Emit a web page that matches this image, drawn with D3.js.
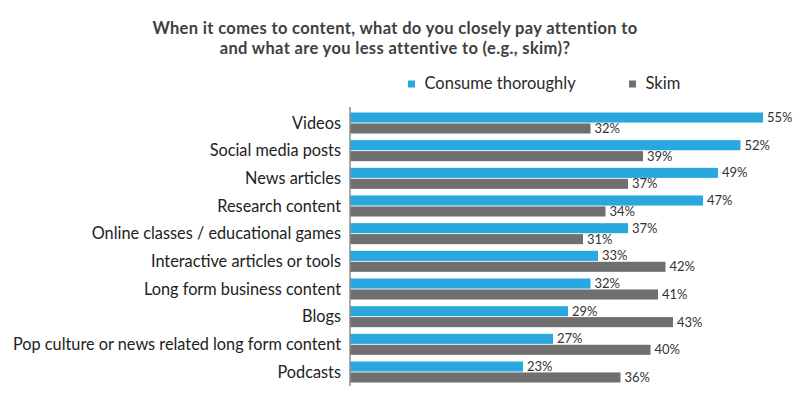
<!DOCTYPE html>
<html>
<head>
<meta charset="utf-8">
<script src="https://cdn.jsdelivr.net/npm/d3@7"></script>
<style>
  body { margin: 0; background: #fff; }
  text { font-family: Lato, "Open Sans", sans-serif; }
</style>
</head>
<body>
<div id="chart"></div>
<script>
// data
var categories = ["Videos", "Social media posts", "News articles", "Research content",
  "Online classes / educational games", "Interactive articles or tools",
  "Long form business content", "Blogs", "Pop culture or news related long form content", "Podcasts"];
var consume = [55, 52, 49, 47, 37, 33, 32, 29, 27, 23];
var skim = [32, 39, 37, 34, 31, 42, 41, 43, 40, 36];
var seriesNames = ["Consume thoroughly", "Skim"];
var colors = ["#29a8df", "#6f6f6f"];

var width = 800, height = 398;

var svg = d3.select("#chart").append("svg")
    .attr("width", width)
    .attr("height", height);

// title
var titleLines = ["When it comes to content, what do you closely pay attention to",
  "and what are you less attentive to (e.g., skim)?"];
titleLines.forEach(function(t, i) {
  svg.append("text").text(t)
    .attr("x", 395).attr("y", 34 + i * 19.5).attr("text-anchor", "middle")
    .style("font-size", "16.5px").style("font-weight", "bold")
    .style("letter-spacing", "0.35px").style("fill", "#404040");
});

// legend
var legendX = [408, 629];
seriesNames.forEach(function(s, i) {
  svg.append("rect").attr("x", legendX[i]).attr("y", 80.5).attr("width", 7).attr("height", 7)
    .style("fill", colors[i]);
  svg.append("text").text(s).attr("x", legendX[i] + 16.5).attr("y", 89)
    .style("font-size", "16.5px").style("fill", "#2a2a2a");
});

// scales
var x = d3.scaleLinear().domain([0, 55]).range([350.5, 763]);
var y = d3.scaleBand().domain(categories).range([112.5, 382.5]).paddingInner(0.24).paddingOuter(0);
var sub = d3.scaleBand().domain([0, 1]).range([0, y.bandwidth()]).paddingInner(0.08);

var rows = categories.map(function(c, i) {
  return { name: c, values: [consume[i], skim[i]] };
});

var g = svg.append("g").selectAll(".row")
    .data(rows)
  .enter().append("g")
    .attr("class", "row")
    .attr("transform", function(d) { return "translate(0," + y(d.name) + ")"; });

g.selectAll("rect")
    .data(function(d) { return d.values; })
  .enter().append("rect")
    .attr("x", x(0))
    .attr("y", function(d, i) { return sub(i); })
    .attr("width", function(d) { return x(d) - x(0); })
    .attr("height", sub.bandwidth())
    .style("fill", function(d, i) { return colors[i]; });

g.selectAll(".val")
    .data(function(d) { return d.values; })
  .enter().append("text")
    .attr("class", "val")
    .attr("x", function(d) { return x(d) + 4; })
    .attr("y", function(d, i) { return sub(i) + sub.bandwidth() / 2; })
    .attr("dy", "0.35em")
    .style("font-size", "13px")
    .style("fill", "#333")
    .text(function(d) { return d + "%"; });

// category labels
g.append("text")
    .attr("x", 341)
    .attr("y", y.bandwidth() / 2)
    .attr("dy", "0.35em")
    .attr("text-anchor", "end")
    .style("font-size", "16.3px")
    .style("fill", "#222")
    .text(function(d) { return d.name; });

// axis line
svg.append("line")
  .attr("x1", x(0) - 0.5).attr("x2", x(0) - 0.5)
  .attr("y1", 107).attr("y2", 386)
  .style("stroke", "#555").style("stroke-width", 1);
</script>
</body>
</html>
